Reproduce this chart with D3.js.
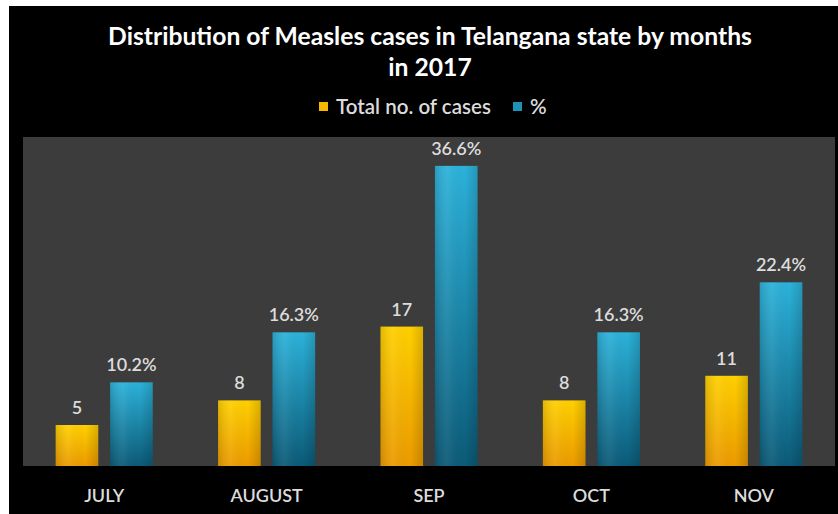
<!DOCTYPE html>
<html><head><meta charset="utf-8">
<script src="https://cdn.jsdelivr.net/npm/d3@7"></script>
<style>html,body{margin:0;padding:0;background:#fff;}svg{display:block;}</style>
</head><body>
<svg id="c" width="838" height="514"></svg>
<script>
const months = ["JULY","AUGUST","SEP","OCT","NOV"];
const totalCases = [5, 8, 17, 8, 11];
const percent = [10.2, 16.3, 36.6, 16.3, 22.4];
const percentLabels = ["10.2%","16.3%","36.6%","16.3%","22.4%"];
const seriesNames = ["Total no. of cases", "%"];
const titleLines = ["Distribution of Measles cases in Telangana state by months", "in 2017"];

const svg = d3.select("#c");
const FONT = "Lato, 'Open Sans', sans-serif";
const W = 838, H = 514;

// backgrounds
svg.append("rect").attr("x",0).attr("y",0).attr("width",W).attr("height",H).attr("fill","#ffffff");
svg.append("rect").attr("x",9).attr("y",6).attr("width",W-9).attr("height",H-6).attr("fill","#000000");

const plot = {x0:23, x1:835, y0:137, y1:466};
svg.append("rect").attr("x",plot.x0).attr("y",plot.y0).attr("width",plot.x1-plot.x0).attr("height",plot.y1-plot.y0).attr("fill","#3c3c3c");

const defs = svg.append("defs");
function grad(id, top, bottom){
  const g = defs.append("linearGradient").attr("id",id).attr("x1",0).attr("y1",0).attr("x2",0).attr("y2",1);
  g.append("stop").attr("offset","0%").attr("stop-color",top);
  g.append("stop").attr("offset","100%").attr("stop-color",bottom);
}
grad("gOrange","#ffd000","#eb9a00");
grad("gBlue","#2cb2da","#0b5a77");
const hg = defs.append("linearGradient").attr("id","gShade").attr("x1",0).attr("y1",0).attr("x2",1).attr("y2",0);
hg.append("stop").attr("offset","0%").attr("stop-color","#000").attr("stop-opacity",0.12);
hg.append("stop").attr("offset","30%").attr("stop-color","#fff").attr("stop-opacity",0.06);
hg.append("stop").attr("offset","70%").attr("stop-color","#000").attr("stop-opacity",0.0);
hg.append("stop").attr("offset","100%").attr("stop-color","#000").attr("stop-opacity",0.15);

const x = d3.scaleBand().domain(months).range([plot.x0, plot.x1]).paddingInner(0).paddingOuter(0);
const xs = d3.scaleBand().domain([0,1]).range([0, x.bandwidth()]).paddingInner(0.218).paddingOuter(0.6);
const y = d3.scaleLinear().domain([0, 40]).range([plot.y1, plot.y1 - 328]);

const series = [
  {vals: totalCases, labels: totalCases.map(String), fill: "url(#gOrange)"},
  {vals: percent, labels: percentLabels, fill: "url(#gBlue)"}
];

series.forEach((s, si) => {
  const g = svg.append("g");
  g.selectAll("rect.bar").data(s.vals).join("rect").attr("class","bar")
    .attr("x",(d,i)=>x(months[i]) + xs(si))
    .attr("y",d=>y(d))
    .attr("width",xs.bandwidth())
    .attr("height",d=>y(0)-y(d))
    .attr("fill",s.fill);
  g.selectAll("rect.sh").data(s.vals).join("rect").attr("class","sh")
    .attr("x",(d,i)=>x(months[i]) + xs(si))
    .attr("y",d=>y(d))
    .attr("width",xs.bandwidth())
    .attr("height",d=>y(0)-y(d))
    .attr("fill","url(#gShade)");
  g.selectAll("text").data(s.vals).join("text")
    .attr("x",(d,i)=>x(months[i]) + xs(si) + xs.bandwidth()/2)
    .attr("y",d=>y(d) - 11)
    .attr("text-anchor","middle")
    .attr("font-family",FONT).attr("font-size",18).attr("font-weight",600)
    .attr("fill","#dcdcdc")
    .text((d,i)=>s.labels[i]);
});

// x axis labels
const xAxis = d3.axisBottom(x).tickSize(0).tickPadding(0);
const ax = svg.append("g").attr("transform",`translate(0,${plot.y1})`).call(xAxis);
ax.select(".domain").remove();
ax.selectAll("text").attr("font-family",FONT).attr("font-size",18).attr("font-weight",600)
  .attr("fill","#dcdcdc").attr("dy",0).attr("y",36);

// title
function fitText(sel, target){
  const w = sel.node().getComputedTextLength();
  const fs = parseFloat(sel.attr("font-size"));
  sel.attr("font-size", fs*target/w);
}
const t1 = svg.append("text").attr("x",430).attr("y",45).attr("text-anchor","middle")
  .attr("font-family",FONT).attr("font-size",21).attr("font-weight","bold").attr("fill","#ffffff").text(titleLines[0]);
fitText(t1, 644);
const t2 = svg.append("text").attr("x",430).attr("y",76).attr("text-anchor","middle")
  .attr("font-family",FONT).attr("font-size",t1.attr("font-size")).attr("font-weight","bold").attr("fill","#ffffff").text(titleLines[1]);

// legend
const lg = svg.append("g");
const legendItems = [
  {name: seriesNames[0], color:"#f5b800", sq:319, tx:336},
  {name: seriesNames[1], color:"#1e93b8", sq:513, tx:530}
];
let legendFs = 16;
legendItems.forEach((it, k)=>{
  lg.append("rect").attr("x",it.sq).attr("y",102).attr("width",9).attr("height",9).attr("fill",it.color);
  const t = lg.append("text").attr("x",it.tx).attr("y",114).attr("font-family",FONT).attr("font-size",legendFs)
    .attr("font-weight",600).attr("fill","#dcdcdc").text(it.name);
  if (k === 0) { fitText(t, 155); legendFs = parseFloat(t.attr("font-size")); }
});
</script>
</body></html>
